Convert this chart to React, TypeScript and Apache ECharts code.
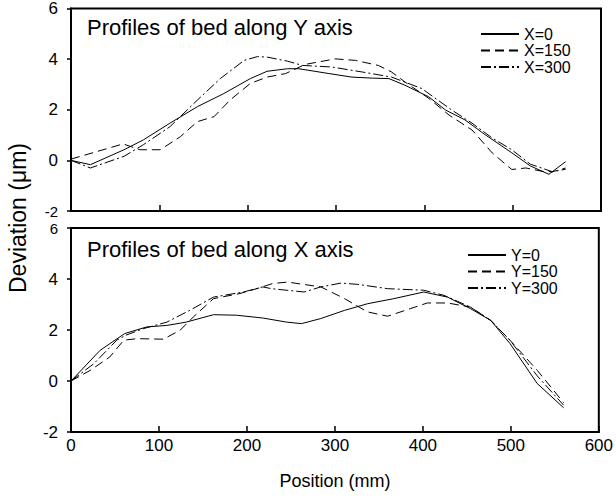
import React, { useEffect, useRef } from "react";
import * as echarts from "echarts";

const FONT = "'Liberation Sans', Arial, Helvetica, sans-serif";

const xTicks = [0, 100, 200, 300, 400, 500, 600];
const yTicks = [-2, 0, 2, 4, 6];

const topTitle = "Profiles of bed along Y axis";
const bottomTitle = "Profiles of bed along X axis";
const topNames = ["X=0", "X=150", "X=300"];
const bottomNames = ["Y=0", "Y=150", "Y=300"];

// Top panel: profiles along Y axis
const topX0 = [
  [0, 0], [22, -0.17], [60, 0.42], [82, 0.81], [112, 1.47], [143, 2.12], [173, 2.64],
  [203, 3.23], [222, 3.52], [245, 3.62], [258, 3.62], [292, 3.43], [318, 3.29],
  [341, 3.25], [360, 3.23], [378, 2.97], [405, 2.51], [424, 1.99], [446, 1.6],
  [469, 1.01], [499, 0.3], [520, -0.22], [541, -0.55], [560, -0.05],
];
const topX150 = [
  [0, 0.05], [59, 0.65], [78, 0.42], [101, 0.42], [124, 0.94], [143, 1.53], [162, 1.73],
  [180, 2.38], [203, 3.04], [222, 3.29], [243, 3.43], [265, 3.79], [299, 4.01],
  [322, 3.95], [348, 3.75], [363, 3.49], [378, 3.1], [405, 2.45], [428, 1.79],
  [454, 1.2], [477, 0.29], [499, -0.36], [515, -0.3], [533, -0.43], [545, -0.45], [560, -0.3],
];
const topX300 = [
  [0, 0], [22, -0.3], [60, 0.16], [82, 0.62], [112, 1.33], [143, 2.38], [169, 3.23],
  [196, 3.95], [211, 4.1], [222, 4.08], [245, 3.92], [262, 3.75], [295, 3.69],
  [330, 3.49], [363, 3.29], [397, 2.84], [431, 1.99], [454, 1.47], [477, 0.88],
  [499, 0.42], [520, -0.15], [545, -0.45], [560, -0.35],
];

// Bottom panel: profiles along X axis
const botY0 = [
  [0, 0], [33, 1.2], [61, 1.86], [86, 2.12], [109, 2.18], [131, 2.31], [162, 2.6],
  [188, 2.58], [218, 2.47], [245, 2.31], [262, 2.25], [284, 2.45], [311, 2.77],
  [337, 3.03], [367, 3.23], [401, 3.49], [428, 3.29], [454, 2.84], [477, 2.38],
  [499, 1.47], [530, -0.1], [560, -1.05],
];
const botY150 = [
  [0, 0], [22, 0.42], [44, 0.94], [60, 1.6], [75, 1.66], [105, 1.64], [124, 1.99],
  [139, 2.51], [162, 3.23], [192, 3.43], [214, 3.65], [229, 3.82], [246, 3.88],
  [284, 3.69], [311, 3.23], [337, 2.71], [360, 2.54], [386, 2.84], [405, 3.06],
  [428, 3.06], [454, 2.9], [477, 2.38], [499, 1.6], [530, 0.42], [560, -0.85],
];
const botY300 = [
  [0, 0], [26, 0.68], [52, 1.6], [62, 1.79], [82, 2.05], [109, 2.31], [135, 2.77],
  [162, 3.29], [196, 3.49], [218, 3.69], [228, 3.62], [265, 3.49], [284, 3.69],
  [307, 3.84], [326, 3.79], [360, 3.62], [401, 3.56], [424, 3.36], [454, 2.9],
  [477, 2.38], [499, 1.6], [530, 0.2], [560, -0.95],
];

const lineTypes: any[] = ["solid", [9, 5], [10, 3, 2, 3]];

export default function App() {
  const ref = useRef<HTMLDivElement>(null);
  useEffect(() => {
    if (!ref.current) return;
    const chart = echarts.init(ref.current, null, { renderer: "svg" });

    const mkX = (grid: number, labels: boolean) => ({
      type: "value",
      gridIndex: grid,
      min: xTicks[0],
      max: xTicks[xTicks.length - 1],
      interval: 100,
      axisLine: { show: true, onZero: false, lineStyle: { color: "#000", width: 2 } },
      axisTick: { show: true, inside: true, length: 6, lineStyle: { color: "#000", width: 1.5 } },
      axisLabel: {
        show: labels,
        color: "#000",
        fontSize: 17,
        fontFamily: FONT,
        margin: 5,
      },
      splitLine: { show: false },
      name: labels ? "Position (mm)" : "",
      nameLocation: "middle",
      nameGap: 40,
      nameTextStyle: { color: "#000", fontSize: 18, fontFamily: FONT },
    });
    // small: the value whose label sits where the two panels meet
    const mkY = (grid: number, small: number) => ({
      type: "value",
      gridIndex: grid,
      min: yTicks[0],
      max: yTicks[yTicks.length - 1],
      interval: 2,
      axisLine: { show: true, onZero: false, lineStyle: { color: "#000", width: 2 } },
      axisTick: { show: true, inside: false, length: 4, lineStyle: { color: "#000", width: 1.5 } },
      axisLabel: {
        color: "#000",
        fontSize: 17,
        fontFamily: FONT,
        margin: 13,
        formatter: (v: number) => (v === small ? "{s|" + v + "}" : String(v)),
        rich: { s: { fontSize: 15, fontFamily: FONT, color: "#000" } },
      },
      splitLine: { show: false },
    });

    const mkSeries = (name: string, data: number[][], i: number, grid: number) => ({
      type: "line",
      name,
      data,
      xAxisIndex: grid,
      yAxisIndex: grid,
      symbol: "none",
      smooth: false,
      silent: true,
      lineStyle: { color: "#000", width: 1, type: lineTypes[i] },
      itemStyle: { color: "#000" },
    });

    const legendBase = {
      orient: "vertical",
      itemWidth: 38,
      itemHeight: 16.5,
      itemGap: 0.5,
      padding: 0,
      selectedMode: false,
      itemStyle: { color: "transparent", borderWidth: 0, opacity: 0 },
      textStyle: { color: "#000", fontSize: 16, fontFamily: FONT },
    };

    chart.setOption({
      animation: false,
      backgroundColor: "#fff",
      title: [
        {
          text: topTitle,
          left: 87,
          top: 16,
          padding: 0,
          textStyle: { color: "#000", fontSize: 22, fontWeight: "normal", fontFamily: FONT },
        },
        {
          text: bottomTitle,
          left: 87,
          top: 238,
          padding: 0,
          textStyle: { color: "#000", fontSize: 22, fontWeight: "normal", fontFamily: FONT },
        },
      ],
      legend: [
        { ...legendBase, data: topNames, left: 480, top: 26 },
        { ...legendBase, data: bottomNames, left: 467, top: 247 },
      ],
      grid: [
        { left: 71, top: 8, width: 530, height: 203, show: true, borderColor: "#000", borderWidth: 2, backgroundColor: "transparent" },
        { left: 71, top: 228, width: 530, height: 204, show: true, borderColor: "#000", borderWidth: 2, backgroundColor: "transparent" },
      ],
      xAxis: [mkX(0, false), mkX(1, true)],
      yAxis: [mkY(0, -2), mkY(1, 6)],
      graphic: [
        {
          type: "text",
          x: 18,
          y: 218,
          rotation: Math.PI / 2,
          style: {
            text: "Deviation (\u03bcm)",
            fill: "#000",
            fontSize: 23,
            fontFamily: FONT,
            textAlign: "center",
            textVerticalAlign: "middle",
          },
        },
      ],
      series: [
        mkSeries(topNames[0], topX0, 0, 0),
        mkSeries(topNames[1], topX150, 1, 0),
        mkSeries(topNames[2], topX300, 2, 0),
        mkSeries(bottomNames[0], botY0, 0, 1),
        mkSeries(bottomNames[1], botY150, 1, 1),
        mkSeries(bottomNames[2], botY300, 2, 1),
      ],
    });
    return () => chart.dispose();
  }, []);
  return (
    <div
      ref={ref}
      style={{ position: "fixed", left: 0, top: 0, width: 616, height: 499, background: "#fff" }}
    />
  );
}
